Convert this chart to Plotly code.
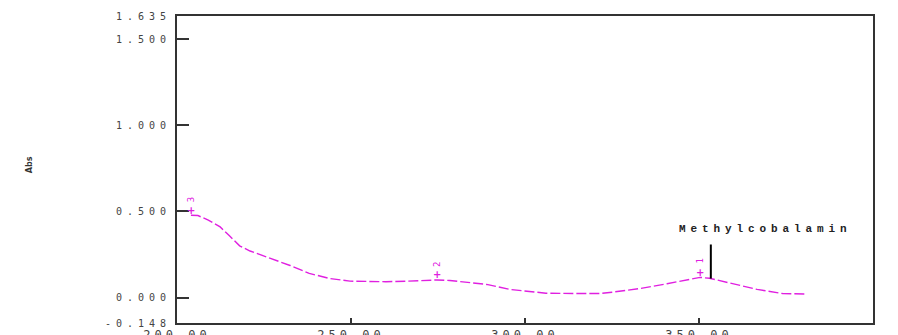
import plotly.graph_objects as go

# Spectrum data (wavelength nm, absorbance)
wavelength = [204.0, 206.0, 209.0, 212.4, 215.0, 218.0, 221.0, 226.7, 232.5, 238.0,
              244.0, 249.7, 255.5, 260.0, 266.0, 270.7, 274.7, 278.4, 284.0, 289.0,
              295.7, 302.0, 306.0, 315.0, 321.5, 325.0, 333.0, 340.8, 345.4, 350.3,
              353.0, 359.8, 366.7, 374.0, 381.0]
absorbance = [0.478, 0.476, 0.450, 0.410, 0.360, 0.300, 0.270, 0.230, 0.186, 0.140,
              0.110, 0.095, 0.093, 0.092, 0.095, 0.099, 0.102, 0.099, 0.087, 0.076,
              0.047, 0.031, 0.025, 0.023, 0.023, 0.031, 0.052, 0.080, 0.099, 0.117,
              0.112, 0.081, 0.047, 0.023, 0.020]

# Peak picks
peak_wl = [350.3, 274.7, 204.0]
peak_abs = [0.117, 0.102, 0.478]
peak_labels = ["1", "2", "3"]

# Axis ticks
y_range = [-0.148, 1.635]
y_tickvals = [-0.148, 0.0, 0.5, 1.0, 1.5, 1.635]
y_ticktext = ["-0.148", "0.000", "0.500", "1.000", "1.500", "1.635"]
x_range = [200, 400]
x_tickvals = [200, 250, 300, 350, 400]
x_ticktext = ["200.00", "250.00", "300.00", "350.00", "400.00"]

# Compound label
compound = "Methylcobalamin"
compound_label_x = 369.0
compound_label_y = 0.40
pointer_x = 353.4
pointer_y = [0.11, 0.308]

MAGENTA = "#E020E0"


def spaced(t, ls):
    return f'<span style="letter-spacing:{ls}px">{t}</span>'


fig = go.Figure()
fig.add_trace(go.Scatter(
    x=wavelength, y=absorbance, mode="lines",
    line=dict(color=MAGENTA, width=1.4, dash="10px,3px"),
    hoverinfo="skip", showlegend=False,
))

annotations = []
for px, py, lab in zip(peak_wl, peak_abs, peak_labels):
    annotations.append(dict(x=px, y=py, xref="x", yref="y", text="<b>+</b>",
                            showarrow=False, yshift=5,
                            font=dict(color=MAGENTA, size=10, family="DejaVu Sans")))
    annotations.append(dict(x=px, y=py, xref="x", yref="y", text=lab,
                            showarrow=False, yshift=16, textangle=-90,
                            font=dict(color=MAGENTA, size=9, family="DejaVu Sans Mono")))

annotations.append(dict(x=compound_label_x, y=compound_label_y, xref="x", yref="y",
                        text="<b>" + spaced(compound, 4.9) + "</b>", showarrow=False,
                        font=dict(color="#222", size=11, family="Liberation Mono")))
annotations.append(dict(x=-0.22, y=0.515, xref="paper", yref="paper", text="<b>Abs</b>",
                        textangle=-90, showarrow=False,
                        font=dict(color="#333", size=8, family="DejaVu Sans")))

fig.add_shape(type="line", x0=pointer_x, x1=pointer_x, y0=pointer_y[0], y1=pointer_y[1],
              xref="x", yref="y", line=dict(color="black", width=2))

fig.update_layout(
    width=890, height=327,
    margin=dict(l=169, r=25, t=8, b=12),
    paper_bgcolor="white", plot_bgcolor="white",
    annotations=annotations,
    showlegend=False,
)
fig.update_xaxes(
    range=x_range, tickvals=x_tickvals,
    ticktext=[spaced(t, 4) for t in x_ticktext],
    ticks="inside", ticklen=5, tickwidth=1.5, tickcolor="#333",
    showline=True, mirror=True, linecolor="#333", linewidth=2,
    showgrid=False, zeroline=False, automargin=False,
    tickfont=dict(family="DejaVu Sans Mono", size=12, color="#444"),
)
fig.update_yaxes(
    range=y_range, tickvals=y_tickvals,
    ticktext=[spaced(t, 5) for t in y_ticktext],
    ticks="inside", ticklen=12, tickwidth=1.5, tickcolor="#333",
    showline=True, mirror=True, linecolor="#333", linewidth=2,
    showgrid=False, zeroline=False, automargin=False, ticklabelstandoff=2,
    tickfont=dict(family="DejaVu Sans Mono", size=10, color="#444"),
)

fig.write_html("out.html")
